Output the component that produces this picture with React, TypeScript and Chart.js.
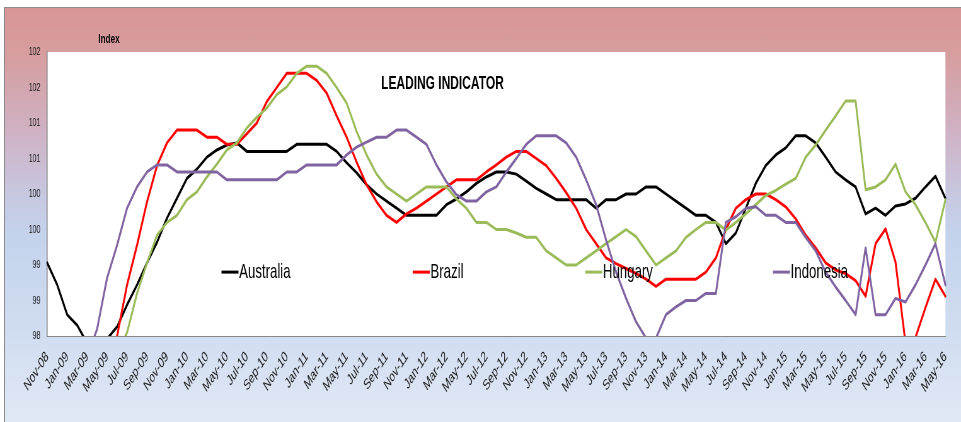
import { useEffect, useRef } from 'react';
import { Chart, registerables } from 'chart.js';

Chart.register(...registerables);

const months = [
  'Nov-08', 'Dec-08',
  'Jan-09', 'Feb-09', 'Mar-09', 'Apr-09', 'May-09', 'Jun-09', 'Jul-09', 'Aug-09', 'Sep-09', 'Oct-09', 'Nov-09', 'Dec-09',
  'Jan-10', 'Feb-10', 'Mar-10', 'Apr-10', 'May-10', 'Jun-10', 'Jul-10', 'Aug-10', 'Sep-10', 'Oct-10', 'Nov-10', 'Dec-10',
  'Jan-11', 'Feb-11', 'Mar-11', 'Apr-11', 'May-11', 'Jun-11', 'Jul-11', 'Aug-11', 'Sep-11', 'Oct-11', 'Nov-11', 'Dec-11',
  'Jan-12', 'Feb-12', 'Mar-12', 'Apr-12', 'May-12', 'Jun-12', 'Jul-12', 'Aug-12', 'Sep-12', 'Oct-12', 'Nov-12', 'Dec-12',
  'Jan-13', 'Feb-13', 'Mar-13', 'Apr-13', 'May-13', 'Jun-13', 'Jul-13', 'Aug-13', 'Sep-13', 'Oct-13', 'Nov-13', 'Dec-13',
  'Jan-14', 'Feb-14', 'Mar-14', 'Apr-14', 'May-14', 'Jun-14', 'Jul-14', 'Aug-14', 'Sep-14', 'Oct-14', 'Nov-14', 'Dec-14',
  'Jan-15', 'Feb-15', 'Mar-15', 'Apr-15', 'May-15', 'Jun-15', 'Jul-15', 'Aug-15', 'Sep-15', 'Oct-15', 'Nov-15', 'Dec-15',
  'Jan-16', 'Feb-16', 'Mar-16', 'Apr-16', 'May-16',
];

const australia = [
  99.03, 98.72, 98.3, 98.15, 97.9, 97.85, 97.96, 98.13, 98.44, 98.72,
  99.03, 99.32, 99.66, 99.94, 100.22, 100.35, 100.52, 100.62, 100.69, 100.72,
  100.6, 100.6, 100.6, 100.6, 100.6, 100.7, 100.7, 100.7, 100.7, 100.6,
  100.44, 100.3, 100.13, 100.0, 99.9, 99.8, 99.7, 99.7, 99.7, 99.7,
  99.85, 99.93, 100.03, 100.15, 100.24, 100.31, 100.31, 100.28, 100.18, 100.08,
  100.0, 99.92, 99.92, 99.92, 99.92, 99.8, 99.92, 99.92, 100.0, 100.0,
  100.1, 100.1, 100.0, 99.9, 99.8, 99.7, 99.7, 99.6, 99.3, 99.45,
  99.8, 100.15, 100.4, 100.55, 100.65, 100.82, 100.82, 100.72, 100.52, 100.31,
  100.2, 100.1, 99.72, 99.8, 99.7, 99.83, 99.86, 99.94, 100.1, 100.25, 99.94,
];

const brazil = [
  97.6, 97.4, 97.2, 97.1, 97.1, 97.3, 97.6, 98.0, 98.72, 99.28,
  99.89, 100.4, 100.72, 100.9, 100.9, 100.9, 100.8, 100.8, 100.7, 100.7,
  100.85, 101.0, 101.3, 101.5, 101.7, 101.7, 101.7, 101.6, 101.42, 101.1,
  100.8, 100.45, 100.13, 99.89, 99.7, 99.6, 99.72, 99.8, 99.9, 100.0,
  100.1, 100.2, 100.2, 100.2, 100.31, 100.41, 100.52, 100.6, 100.6, 100.5,
  100.4, 100.22, 100.02, 99.8, 99.5, 99.3, 99.1, 99.02, 98.95, 98.88,
  98.8, 98.7, 98.8, 98.8, 98.8, 98.8, 98.9, 99.1, 99.5, 99.8,
  99.92, 100.0, 100.0, 99.92, 99.82, 99.65, 99.42, 99.24, 99.03, 98.93,
  98.88, 98.78, 98.56, 99.3, 99.51, 99.04, 97.9, 97.98, 98.4, 98.8, 98.56,
];

const hungary = [
  97.0, 96.9, 96.8, 96.8, 96.9, 97.1, 97.4, 97.75, 98.05, 98.6,
  99.03, 99.42, 99.6, 99.7, 99.92, 100.03, 100.24, 100.42, 100.62, 100.72,
  100.93, 101.08, 101.21, 101.4, 101.51, 101.7, 101.8, 101.8, 101.7, 101.5,
  101.28, 100.88, 100.55, 100.28, 100.1, 100.0, 99.9, 100.0, 100.1, 100.1,
  100.1, 99.93, 99.8, 99.6, 99.6, 99.5, 99.5, 99.45, 99.39, 99.39,
  99.2, 99.1, 99.0, 99.0, 99.1, 99.2, 99.3, 99.4, 99.5, 99.4,
  99.2, 99.0, 99.1, 99.2, 99.39, 99.5, 99.6, 99.6, 99.49, 99.6,
  99.72, 99.85, 99.98, 100.05, 100.14, 100.22, 100.52, 100.69, 100.9, 101.1,
  101.31, 101.31, 100.06, 100.1, 100.2, 100.42, 100.03, 99.85, 99.6, 99.32, 99.92,
];

const indonesia = [
  97.3, 97.1, 97.0, 97.2, 97.7, 98.1, 98.82, 99.28, 99.8, 100.1,
  100.31, 100.41, 100.41, 100.31, 100.31, 100.31, 100.31, 100.31, 100.2, 100.2,
  100.2, 100.2, 100.2, 100.2, 100.31, 100.31, 100.41, 100.41, 100.41, 100.41,
  100.55, 100.66, 100.73, 100.8, 100.8, 100.9, 100.9, 100.8, 100.7, 100.41,
  100.17, 99.99, 99.9, 99.9, 100.03, 100.1, 100.31, 100.5, 100.7, 100.82,
  100.82, 100.82, 100.72, 100.52, 100.2, 99.85, 99.35, 98.9, 98.53, 98.2,
  97.97, 97.97, 98.3, 98.41, 98.5, 98.5, 98.6, 98.6, 99.6, 99.68,
  99.8, 99.82, 99.7, 99.7, 99.6, 99.6, 99.39, 99.2, 98.9, 98.69,
  98.5, 98.3, 99.24, 98.3, 98.3, 98.53, 98.48, 98.72, 99.0, 99.3, 98.72,
];

const seriesNames = ['Australia', 'Brazil', 'Hungary', 'Indonesia'];
const seriesColors = ['#000000', '#FF0000', '#9BBB59', '#8064A2'];
const yMin = 98;
const yMax = 102;
const yStep = 0.5;

const chartTitle = 'LEADING INDICATOR';
const axisTitle = 'Index';

const FONT = '"Liberation Sans", Arial, Helvetica, sans-serif';
const SQUEEZE = 0.63;
const CSS_W = 956;
const CSS_H = 414;
const LOGICAL_W = Math.round(CSS_W / SQUEEZE);

// legend item positions as fractions of the plot area
const legendFracX = [0.194, 0.407, 0.599, 0.808];
const legendFracY = 0.775;

export default function App() {
  const ref = useRef<HTMLCanvasElement | null>(null);

  useEffect(() => {
    const canvas = ref.current;
    if (!canvas) return;

    const decor = {
      id: 'decor',
      beforeDraw(chart: any) {
        const { ctx, chartArea: ca } = chart;
        ctx.save();
        ctx.fillStyle = '#ffffff';
        ctx.fillRect(ca.left, ca.top, ca.right - ca.left, ca.bottom - ca.top);
        ctx.restore();
      },
      afterDatasetsDraw(chart: any) {
        const { ctx, chartArea: ca } = chart;
        const w = ca.right - ca.left;
        const h = ca.bottom - ca.top;
        ctx.save();
        // title
        ctx.fillStyle = '#000';
        ctx.font = `bold 19px ${FONT}`;
        ctx.textAlign = 'center';
        ctx.textBaseline = 'middle';
        ctx.fillText(chartTitle, ca.left + w * 0.44, ca.top + h * 0.113);
        // axis unit label
        ctx.font = `bold 13px ${FONT}`;
        ctx.fillText(axisTitle, ca.left + 98, ca.top - 13);
        // legend
        ctx.font = `21px ${FONT}`;
        ctx.textAlign = 'left';
        const ly = ca.top + h * legendFracY;
        seriesNames.forEach((name, i) => {
          const lx = ca.left + w * legendFracX[i];
          ctx.strokeStyle = seriesColors[i];
          ctx.lineWidth = 3;
          ctx.beginPath();
          ctx.moveTo(lx, ly);
          ctx.lineTo(lx + 27, ly);
          ctx.stroke();
          ctx.fillStyle = '#000';
          ctx.fillText(name, lx + 28, ly);
        });
        ctx.restore();
      },
    };

    const seriesData = [australia, brazil, hungary, indonesia];
    const chart = new Chart(canvas, {
      type: 'line',
      data: {
        labels: months,
        datasets: seriesNames.map((name, i) => ({
          label: name,
          data: seriesData[i],
          borderColor: seriesColors[i],
          backgroundColor: seriesColors[i],
          borderWidth: 3,
          pointRadius: 0,
          tension: 0,
          fill: false,
          borderJoinStyle: 'round' as const,
          borderCapStyle: 'round' as const,
          order: 3 - i,
        })),
      },
      options: {
        responsive: false,
        animation: false,
        devicePixelRatio: 1,
        layout: { padding: { top: 44, right: 11, left: 0, bottom: 0 } },
        plugins: {
          legend: { display: false },
          title: { display: false },
          tooltip: { enabled: false },
        },
        scales: {
          x: {
            type: 'category',
            offset: false,
            grid: { display: false, drawTicks: false },
            border: { display: true, color: '#868686', width: 1 },
            ticks: {
              autoSkip: false,
              minRotation: 45,
              maxRotation: 45,
              padding: 12,
              color: '#1a1a1a',
              font: { family: FONT, size: 15 },
              callback: (_v: any, i: number) => (i % 2 === 0 ? months[i] : ''),
            },
            afterFit: (scale: any) => {
              scale.height = 86;
            },
          },
          y: {
            min: yMin,
            max: yMax,
            grid: { display: false, drawTicks: false },
            border: { display: true, color: '#868686', width: 1.6 },
            ticks: {
              stepSize: yStep,
              padding: 11,
              color: '#1a1a1a',
              font: { family: FONT, size: 11 },
              callback: (v: any) => String(Math.round(Number(v))),
            },
            afterFit: (scale: any) => {
              scale.width = 67;
            },
          },
        },
      },
      plugins: [decor],
    });

    return () => chart.destroy();
  }, []);

  return (
    <div
      style={{
        position: 'absolute',
        left: 4,
        top: 7,
        width: 957,
        height: 415,
        boxSizing: 'border-box',
        borderTop: '1px solid #8c8c8c',
        borderLeft: '1px solid #8c8c8c',
        background:
          'linear-gradient(to bottom, rgb(217,149,149) 0%, rgb(214,158,160) 12%, rgb(207,178,196) 30%, rgb(199,199,224) 45%, rgb(196,211,236) 55%, rgb(206,219,240) 75%, rgb(224,232,244) 100%)',
        overflow: 'hidden',
      }}
    >
      <canvas
        ref={ref}
        width={LOGICAL_W}
        height={CSS_H}
        style={{ display: 'block', width: `${CSS_W}px`, height: `${CSS_H}px` }}
      />
    </div>
  );
}
